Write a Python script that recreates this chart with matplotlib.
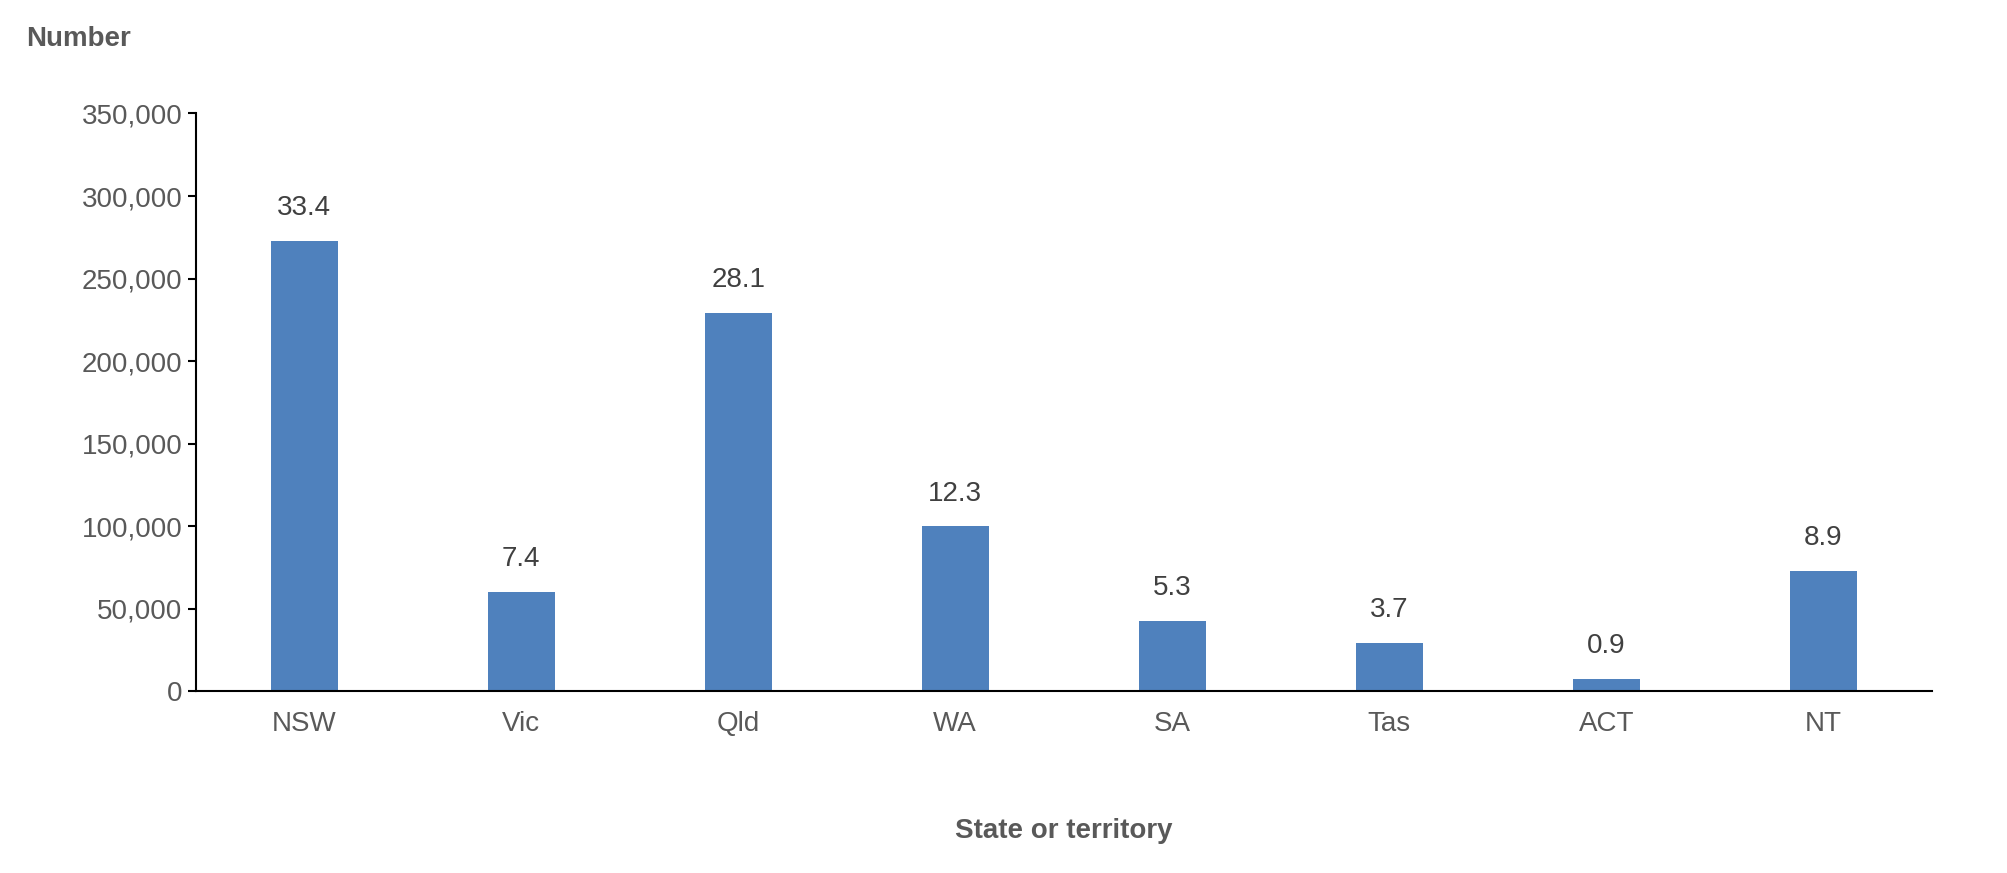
import matplotlib
matplotlib.use("Agg")
import matplotlib.pyplot as plt
from matplotlib.ticker import FuncFormatter

states = ["NSW", "Vic", "Qld", "WA", "SA", "Tas", "ACT", "NT"]
numbers = [272600, 60400, 229200, 99900, 42600, 29400, 7700, 72800]
rates = ["33.4", "7.4", "28.1", "12.3", "5.3", "3.7", "0.9", "8.9"]

plt.rcParams['font.family'] = ['Liberation Sans', 'DejaVu Sans']
fig = plt.figure(figsize=(20.07, 8.73), dpi=100)
ax = fig.add_axes([0.0975, 0.208, 0.865, 0.662])
x = range(len(states))
ax.bar(x, numbers, width=0.31, color="#4F81BD")
for i, (v, r) in enumerate(zip(numbers, rates)):
    ax.text(i, v + 12000, r, ha="center", va="bottom", fontsize=20, color="#404040")
ax.set_xlim(-0.5, len(states) - 0.5)
ax.set_ylim(0, 350000)
ax.set_yticks(range(0, 350001, 50000))
ax.yaxis.set_major_formatter(FuncFormatter(lambda v, p: f"{int(v):,}"))
ax.set_xticks(list(x))
ax.set_xticklabels(states)
ax.tick_params(axis="y", labelsize=20, colors="#595959", length=6, width=1.5)
ax.tick_params(axis="y", color="black")
ax.tick_params(axis="x", labelsize=20, labelcolor="#595959", length=0, pad=14)
for s in ["top", "right"]:
    ax.spines[s].set_visible(False)
ax.spines["left"].set_linewidth(1.5)
ax.spines["bottom"].set_linewidth(1.5)
fig.text(0.013, 0.955, "Number", fontsize=20, fontweight="bold", color="#595959", va="center")
fig.text(0.53, 0.048, "State or territory", fontsize=20, fontweight="bold", color="#595959", ha="center", va="center")
fig.savefig("out.png", dpi=100)
